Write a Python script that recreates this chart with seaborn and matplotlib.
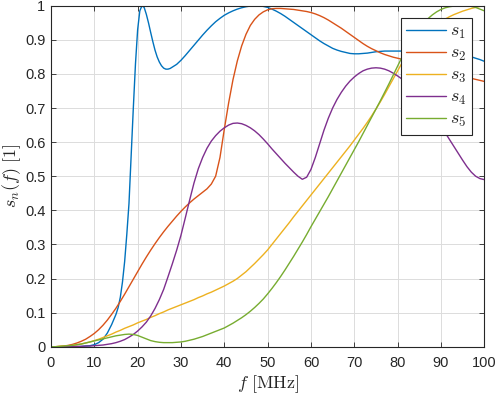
import matplotlib
matplotlib.use('Agg')
import matplotlib.pyplot as plt
import numpy as np
import pandas as pd
import seaborn as sns

# Frequency axis (MHz), one sample per MHz
freq = list(range(0, 101))
# s1 has a sharp resonance, so it gets half-MHz samples around it
freq1 = list(range(0, 15)) + [15, 15.5, 16, 16.5, 17, 17.5, 18, 18.5, 19, 19.5,
                              20, 20.5, 21, 21.5, 22, 22.5, 23, 23.5, 24, 24.5,
                              25, 25.5, 26, 26.5, 27, 27.5] + list(range(28, 101))

s1 = [0, 0, 0, 0, 0, 0, 0, 0.001, 0.002, 0.003,
      0.006, 0.012, 0.022, 0.04, 0.065,
      0.095, 0.115, 0.145, 0.19, 0.25, 0.33, 0.42, 0.56, 0.70, 0.83,
      0.93, 0.985, 1.0, 0.995, 0.975, 0.95, 0.922, 0.895, 0.87, 0.85,
      0.835, 0.824, 0.817, 0.814, 0.814, 0.816,
      0.82, 0.828,
      0.84, 0.854, 0.869, 0.884, 0.899, 0.914, 0.928, 0.941, 0.953, 0.963,
      0.972, 0.979, 0.985, 0.99, 0.994, 0.997, 0.999, 1.0, 1.0, 0.998,
      0.995, 0.99, 0.984, 0.977, 0.969, 0.96, 0.951, 0.942, 0.933, 0.924,
      0.915, 0.906, 0.897, 0.889, 0.882, 0.875, 0.87, 0.866, 0.863, 0.86,
      0.859, 0.859, 0.86, 0.861, 0.863, 0.865, 0.866, 0.867, 0.867, 0.867,
      0.867, 0.867, 0.867, 0.867, 0.867, 0.867, 0.866, 0.866, 0.865, 0.865,
      0.864, 0.863, 0.862, 0.86, 0.858, 0.856, 0.853, 0.85, 0.846, 0.842,
      0.837]

s2 = [0, 0, 0.001, 0.002, 0.004, 0.007, 0.011, 0.016, 0.022, 0.03,
      0.039, 0.05, 0.063, 0.078, 0.095, 0.113, 0.133, 0.154, 0.176, 0.198,
      0.22, 0.242, 0.263, 0.283, 0.302, 0.32, 0.337, 0.353, 0.368, 0.383,
      0.397, 0.41, 0.422, 0.433, 0.443, 0.453, 0.463, 0.477, 0.5, 0.555,
      0.638, 0.715, 0.783, 0.838, 0.882, 0.916, 0.942, 0.96, 0.973, 0.982,
      0.988, 0.991, 0.992, 0.992, 0.991, 0.99, 0.989, 0.987, 0.985, 0.983,
      0.98, 0.976, 0.971, 0.965, 0.958, 0.95, 0.942, 0.934, 0.925, 0.916,
      0.907, 0.898, 0.889, 0.881, 0.874, 0.868, 0.862, 0.857, 0.853, 0.849,
      0.846, 0.843, 0.84, 0.836, 0.832, 0.828, 0.824, 0.82, 0.816, 0.812,
      0.808, 0.804, 0.8, 0.797, 0.794, 0.791, 0.789, 0.787, 0.784, 0.781,
      0.778]

s3 = [0, 0, 0.001, 0.002, 0.003, 0.004, 0.006, 0.008, 0.011, 0.014,
      0.018, 0.022, 0.027, 0.032, 0.037, 0.043, 0.048, 0.054, 0.059, 0.064,
      0.07, 0.075, 0.08, 0.086, 0.091, 0.097, 0.102, 0.108, 0.113, 0.118,
      0.123, 0.128, 0.133, 0.138, 0.144, 0.149, 0.155, 0.16, 0.166, 0.172,
      0.178, 0.185, 0.192, 0.2, 0.21, 0.22, 0.232, 0.244, 0.257, 0.27,
      0.284, 0.3, 0.316, 0.332, 0.348, 0.364, 0.381, 0.397, 0.413, 0.429,
      0.445, 0.461, 0.477, 0.493, 0.509, 0.525, 0.541, 0.557, 0.573, 0.589,
      0.606, 0.623, 0.64, 0.658, 0.677, 0.697, 0.718, 0.74, 0.763, 0.786,
      0.809, 0.832, 0.854, 0.873, 0.89, 0.905, 0.918, 0.929, 0.939, 0.947,
      0.954, 0.961, 0.968, 0.974, 0.979, 0.984, 0.988, 0.992, 0.995, 0.998,
      1.0]

s4 = [0, 0, 0, 0, 0, 0, 0.001, 0.001, 0.002, 0.002,
      0.003, 0.004, 0.005, 0.007, 0.009, 0.012, 0.016, 0.021, 0.028, 0.036,
      0.046, 0.058, 0.072, 0.09, 0.112, 0.138, 0.168, 0.205, 0.243, 0.283,
      0.327, 0.378, 0.43, 0.48, 0.522, 0.555, 0.582, 0.603, 0.619, 0.632,
      0.642, 0.65, 0.655, 0.656, 0.654, 0.649, 0.642, 0.633, 0.622, 0.609,
      0.595, 0.58, 0.566, 0.552, 0.538, 0.525, 0.512, 0.5, 0.491, 0.497,
      0.52, 0.555, 0.595, 0.635, 0.67, 0.7, 0.725, 0.746, 0.764, 0.779,
      0.791, 0.801, 0.809, 0.814, 0.817, 0.818, 0.817, 0.814, 0.809, 0.802,
      0.794, 0.785, 0.775, 0.763, 0.75, 0.735, 0.719, 0.702, 0.684, 0.665,
      0.646, 0.627, 0.607, 0.587, 0.567, 0.547, 0.528, 0.512, 0.5, 0.493,
      0.49]

s5 = [0, 0, 0.001, 0.002, 0.003, 0.004, 0.006, 0.008, 0.011, 0.014,
      0.017, 0.02, 0.023, 0.026, 0.029, 0.032, 0.034, 0.036, 0.037, 0.036,
      0.033, 0.028, 0.023, 0.018, 0.015, 0.013, 0.012, 0.012, 0.012, 0.013,
      0.014, 0.016, 0.019, 0.022, 0.026, 0.03, 0.035, 0.04, 0.045, 0.05,
      0.055, 0.062, 0.069, 0.077, 0.085, 0.094, 0.104, 0.115, 0.127, 0.14,
      0.155, 0.171, 0.188, 0.206, 0.225, 0.245, 0.265, 0.286, 0.307, 0.329,
      0.352, 0.374, 0.396, 0.418, 0.44, 0.463, 0.486, 0.509, 0.532, 0.555,
      0.578, 0.601, 0.625, 0.649, 0.673, 0.697, 0.721, 0.746, 0.771, 0.797,
      0.823, 0.849, 0.873, 0.895, 0.915, 0.933, 0.949, 0.962, 0.973, 0.982,
      0.989, 0.994, 0.997, 0.999, 1.0, 1.0, 1.0, 0.998, 0.995, 0.99,
      0.985]

labels = [r'$s_1$', r'$s_2$', r'$s_3$', r'$s_4$', r'$s_5$']
colors = ['#0072BD', '#D95319', '#EDB120', '#7E2F8E', '#77AC30']

df = pd.concat([pd.DataFrame({'f': fx, 's': vals, 'series': lab})
                for fx, vals, lab in zip([freq1, freq, freq, freq, freq],
                                         [s1, s2, s3, s4, s5], labels)])

sns.set_theme(style='whitegrid')
plt.rcParams['font.family'] = ['Liberation Sans', 'DejaVu Sans']
plt.rcParams['mathtext.fontset'] = 'cm'

fig = plt.figure(figsize=(4.96, 3.94), dpi=100)
ax = fig.add_axes([0.1028, 0.12, 0.8736, 0.8655])

sns.lineplot(data=df, x='f', y='s', hue='series', palette=colors, ax=ax,
             linewidth=1.0, errorbar=None)

ax.set_xlim(0, 100)
ax.set_ylim(0, 1)
ax.set_xticks(np.arange(0, 101, 10))
ax.set_yticks(np.round(np.arange(0, 1.01, 0.1), 1))
ax.set_yticklabels(['0', '0.1', '0.2', '0.3', '0.4', '0.5', '0.6', '0.7', '0.8', '0.9', '1'])

ax.set_facecolor('white')
ax.grid(True, color='#dcdcdc', linewidth=0.7)
for sp in ax.spines.values():
    sp.set_visible(True)
    sp.set_color('#262626')
    sp.set_linewidth(0.8)
ax.tick_params(direction='in', length=3.5, width=0.6, color='#262626',
               labelsize=10.5, labelcolor='#262626', top=True, right=True,
               bottom=True, left=True)
ax.tick_params(axis='x', pad=7)
ax.tick_params(axis='y', pad=4)

ax.set_xlabel(r'$f\ [\mathrm{MHz}]$', fontsize=13, color='#262626')
ax.xaxis.set_label_coords(0.5, -0.077)
ax.set_ylabel(r'$s_n(f)\ [1]$', fontsize=13, color='#262626')
ax.yaxis.set_label_coords(-0.065, 0.5)

handles, labs = ax.get_legend_handles_labels()
leg = ax.legend(handles, labs, loc='upper right', bbox_to_anchor=(0.972, 0.965),
                borderaxespad=0, fontsize=13, frameon=True, fancybox=False,
                framealpha=1, edgecolor='#262626', handlelength=2.2,
                labelspacing=0.22, borderpad=0.3, handletextpad=0.25)
leg.get_frame().set_linewidth(0.8)

fig.savefig('out.png', dpi=100)
